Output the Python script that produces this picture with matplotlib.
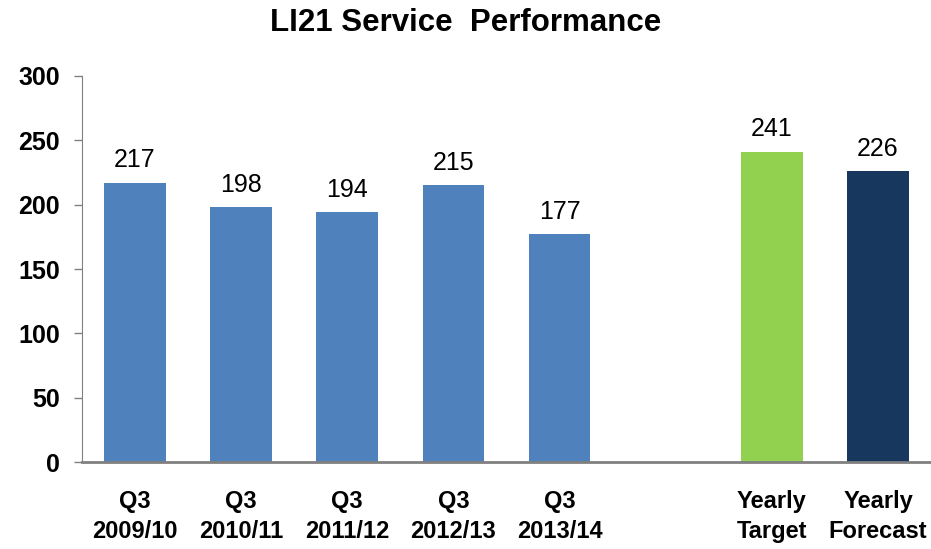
import numpy as np
import matplotlib.pyplot as plt

plt.rcParams['font.family'] = ['Liberation Sans', 'DejaVu Sans']

# Data
labels = ['Q3\n2009/10', 'Q3\n2010/11', 'Q3\n2011/12', 'Q3\n2012/13', 'Q3\n2013/14',
          '', 'Yearly\nTarget', 'Yearly\nForecast']
values = [217, 198, 194, 215, 177, None, 241, 226]
colors = ['#4F81BD'] * 5 + ['white', '#92D050', '#17375E']

fig = plt.figure(figsize=(9.31, 5.49), dpi=100)
ax = fig.add_axes([0.088, 0.158, 0.912, 0.704])

x = np.arange(len(labels))
for xi, v, c in zip(x, values, colors):
    if v is None:
        continue
    ax.bar(xi, v, width=0.58, color=c)
    ax.text(xi, v + 8, str(v), ha='center', va='bottom', fontsize=18)

ax.set_xlim(-0.5, 7.5)
ax.set_ylim(0, 300)
ax.set_yticks(range(0, 301, 50))
ax.set_xticks(x)
ax.set_xticklabels(labels, fontsize=17, fontweight='bold', linespacing=1.38)
ax.tick_params(axis='x', length=0, pad=20)
ax.tick_params(axis='y', labelsize=18, length=6, width=1, color='#808080', pad=10)
for t in ax.get_yticklabels():
    t.set_fontweight('bold')

ax.spines['top'].set_visible(False)
ax.spines['right'].set_visible(False)
ax.spines['left'].set_color('#808080')
ax.spines['bottom'].set_color('#808080')
ax.spines['bottom'].set_linewidth(2)

fig.suptitle('LI21 Service  Performance', fontsize=22.5, fontweight='bold', y=0.985)

fig.savefig('out.png', dpi=100)
